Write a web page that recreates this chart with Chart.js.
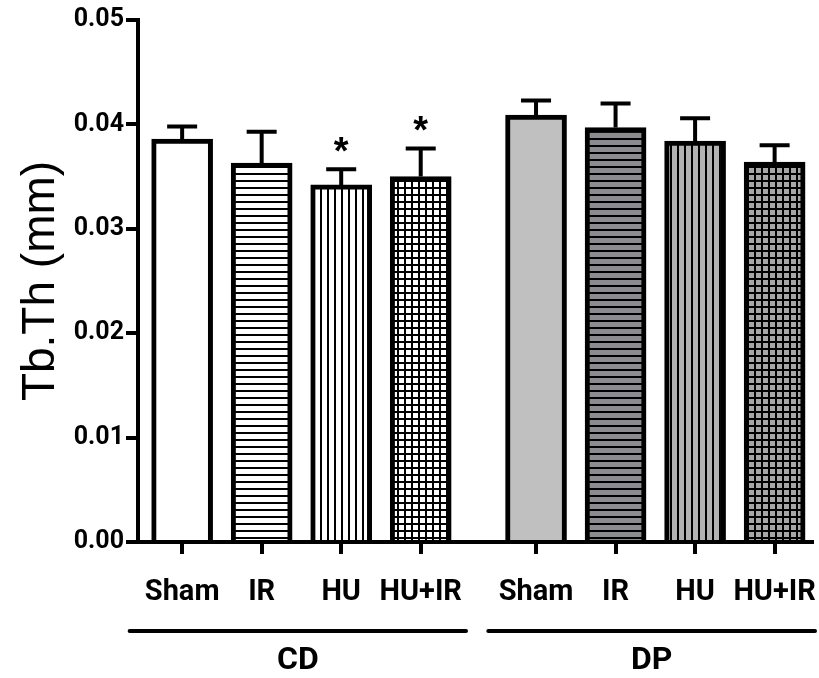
<!DOCTYPE html>
<html>
<head>
<meta charset="utf-8">
<script src="https://cdn.jsdelivr.net/npm/chart.js@4"></script>
<style>
  html, body { margin: 0; padding: 0; background: #fff; }
  #wrap { width: 819px; height: 678px; }
</style>
</head>
<body>
<div id="wrap"><canvas id="grafico" width="819" height="678"></canvas></div>
<script>
// data
const groups = ['CD', 'DP'];
const categories = ['Sham', 'IR', 'HU', 'HU+IR'];
const cdMeans = [0.0386, 0.0363, 0.0342, 0.0350];
const cdSem = [0.0012, 0.0030, 0.0015, 0.0027];
const cdStar = [false, false, true, true];
const dpMeans = [0.0409, 0.0397, 0.0384, 0.0364];
const dpSem = [0.0014, 0.0023, 0.0022, 0.0016];
const dpStar = [false, false, false, false];
const yTicks = [0, 0.01, 0.02, 0.03, 0.04, 0.05];

const BOLD = 'Roboto, "Liberation Sans", sans-serif';
const GAP = 4.45; // second group starts here on the x scale

const canvas = document.getElementById('grafico');
const ctx = canvas.getContext('2d');

function makePattern(bg, kind) {
  const c = document.createElement('canvas');
  c.width = 7; c.height = 7;
  const p = c.getContext('2d');
  p.fillStyle = bg;
  p.fillRect(0, 0, 7, 7);
  p.fillStyle = '#000';
  if (kind === 'h' || kind === 'grid') p.fillRect(0, 5, 7, 2);
  if (kind === 'v' || kind === 'grid') p.fillRect(5, 0, 2, 7);
  return ctx.createPattern(c, 'repeat');
}

const fills = [
  '#ffffff',
  makePattern('#ffffff', 'h'),
  makePattern('#ffffff', 'v'),
  makePattern('#ffffff', 'grid'),
  '#c0c0c0',
  makePattern('#8c8c90', 'h'),
  makePattern('#b2b2b2', 'v'),
  makePattern('#a6a6a6', 'grid')
];

const xPos = [];
const points = [];
const tickLabels = [];
[cdMeans, dpMeans].forEach((means, g) => {
  means.forEach((m, i) => {
    const x = g * GAP + i;
    xPos.push(x);
    points.push({ x: x, y: m });
    tickLabels.push(categories[i]);
  });
});
const sems = cdSem.concat(dpSem);
const stars = cdStar.concat(dpStar);

const extras = {
  id: 'extras',
  afterDatasetsDraw(chart) {
    const c = chart.ctx;
    const xs = chart.scales.x;
    const ys = chart.scales.y;
    c.save();
    c.strokeStyle = '#000';
    c.fillStyle = '#000';
    c.lineWidth = 4;
    points.forEach((p, i) => {
      const px = xs.getPixelForValue(p.x);
      const top = ys.getPixelForValue(p.y);
      const cap = ys.getPixelForValue(p.y + sems[i]);
      c.beginPath();
      c.moveTo(px, top);
      c.lineTo(px, cap);
      c.moveTo(px - 15, cap);
      c.lineTo(px + 15, cap);
      c.stroke();
      if (stars[i]) {
        c.font = 'bold 38px "Liberation Sans", sans-serif';
        c.textAlign = 'center';
        c.textBaseline = 'middle';
        c.fillText('*', px, cap - 16);
      }
    });
    // group lines and labels
    const lineY = 631;
    const spans = [[-0.66, 3.57], [GAP - 0.6, GAP + 3.55]];
    c.lineCap = 'round';
    spans.forEach((s, g) => {
      const x0 = xs.getPixelForValue(s[0]);
      const x1 = Math.min(xs.getPixelForValue(s[1]), chart.width - 4);
      c.beginPath();
      c.moveTo(x0, lineY);
      c.lineTo(x1, lineY);
      c.stroke();
      c.font = 'bold 32px ' + BOLD;
      c.textAlign = 'center';
      c.textBaseline = 'middle';
      c.fillText(groups[g], (x0 + x1) / 2, 661);
    });
    c.restore();
  }
};

const chart = new Chart(ctx, {
  type: 'bar',
  data: {
    datasets: [{
      data: points,
      backgroundColor: fills,
      borderColor: '#000',
      borderWidth: 5,
      barThickness: 61
    }]
  },
  options: {
    responsive: false,
    animation: false,
    layout: { padding: { top: 20, right: 7, left: 0, bottom: 0 } },
    plugins: { legend: { display: false }, tooltip: { enabled: false } },
    scales: {
      x: {
        type: 'linear',
        offset: false,
        min: -0.555,
        max: GAP + 3.47,
        afterBuildTicks(scale) {
          scale.ticks = xPos.map(v => ({ value: v }));
        },
        afterFit(scale) {
          scale.height = 136;
          scale.paddingLeft = 0;
          scale.paddingRight = 0;
        },
        ticks: {
          autoSkip: false,
          maxRotation: 0,
          padding: 21,
          color: '#000',
          font: { family: BOLD, size: 29, weight: 'bold' },
          callback: (v, i) => tickLabels[i]
        },
        grid: { offset: false, drawOnChartArea: false, color: '#000', lineWidth: 4, tickLength: 12 },
        border: { color: '#000', width: 4 }
      },
      y: {
        min: 0,
        max: 0.05,
        afterBuildTicks(scale) {
          scale.ticks = yTicks.map(v => ({ value: v }));
        },
        afterFit(scale) {
          scale.width = 138;
          scale.paddingTop = 0;
          scale.paddingBottom = 0;
        },
        ticks: {
          padding: 2,
          color: '#000',
          font: { family: BOLD, size: 25, weight: 'bold' },
          callback: v => v.toFixed(2)
        },
        grid: { drawOnChartArea: false, color: '#000', lineWidth: 4, tickLength: 12 },
        border: { color: '#000', width: 4 },
        title: {
          display: true,
          text: 'Tb.Th (mm)',
          color: '#000',
          padding: { top: 14, bottom: 0 },
          font: { family: '"Liberation Sans", Arial, sans-serif', size: 46 }
        }
      }
    }
  },
  plugins: [extras]
});
</script>
</body>
</html>
